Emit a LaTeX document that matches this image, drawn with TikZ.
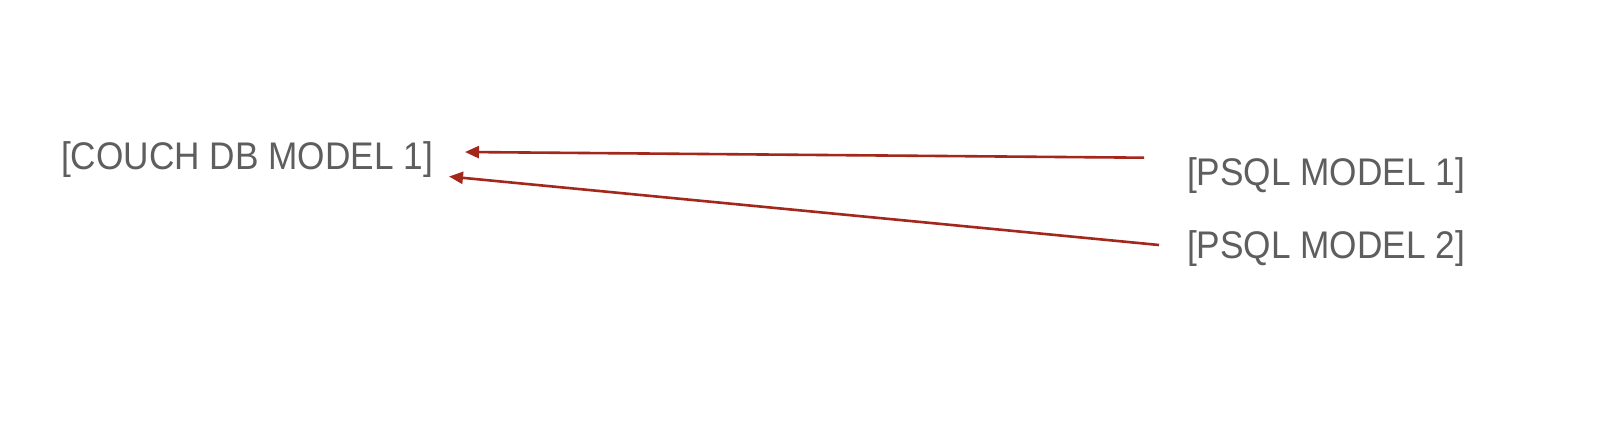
\documentclass[tikz,border=0pt]{standalone}
\usepackage{fontspec}
\setmainfont{Liberation Sans}
\usetikzlibrary{arrows.meta}
\definecolor{txtgray}{HTML}{5E5E5E}
\definecolor{arrred}{HTML}{A4271B}
\newcommand{\lbltext}[1]{\scalebox{0.915}[1]{#1}}
\begin{document}
\begin{tikzpicture}[x=1pt,y=-1pt,
  lbl/.style={anchor=base west,inner sep=0pt,text=txtgray,font=\fontsize{38.5}{42}\selectfont},
  conn/.style={draw=arrred,line width=2.6pt,-{Triangle[length=14pt,width=12pt]}}]
\useasboundingbox[fill=white] (0,0) rectangle (1608,428);
\node[lbl] (couch) at (60.8,169) {\lbltext{[COUCH DB MODEL 1]}};
\node[lbl] (p1) at (1186.8,185) {\lbltext{[PSQL MODEL 1]}};
\node[lbl] (p2) at (1186.8,258) {\lbltext{[PSQL MODEL 2]}};
\coordinate (s1) at (1144,157.7);
\coordinate (s2) at (1159,245);
\coordinate (t1) at (465,152);
\coordinate (t2) at (449,176.5);
\draw[conn] (s1) -- (t1);
\draw[conn] (s2) -- (t2);
\end{tikzpicture}
\end{document}
